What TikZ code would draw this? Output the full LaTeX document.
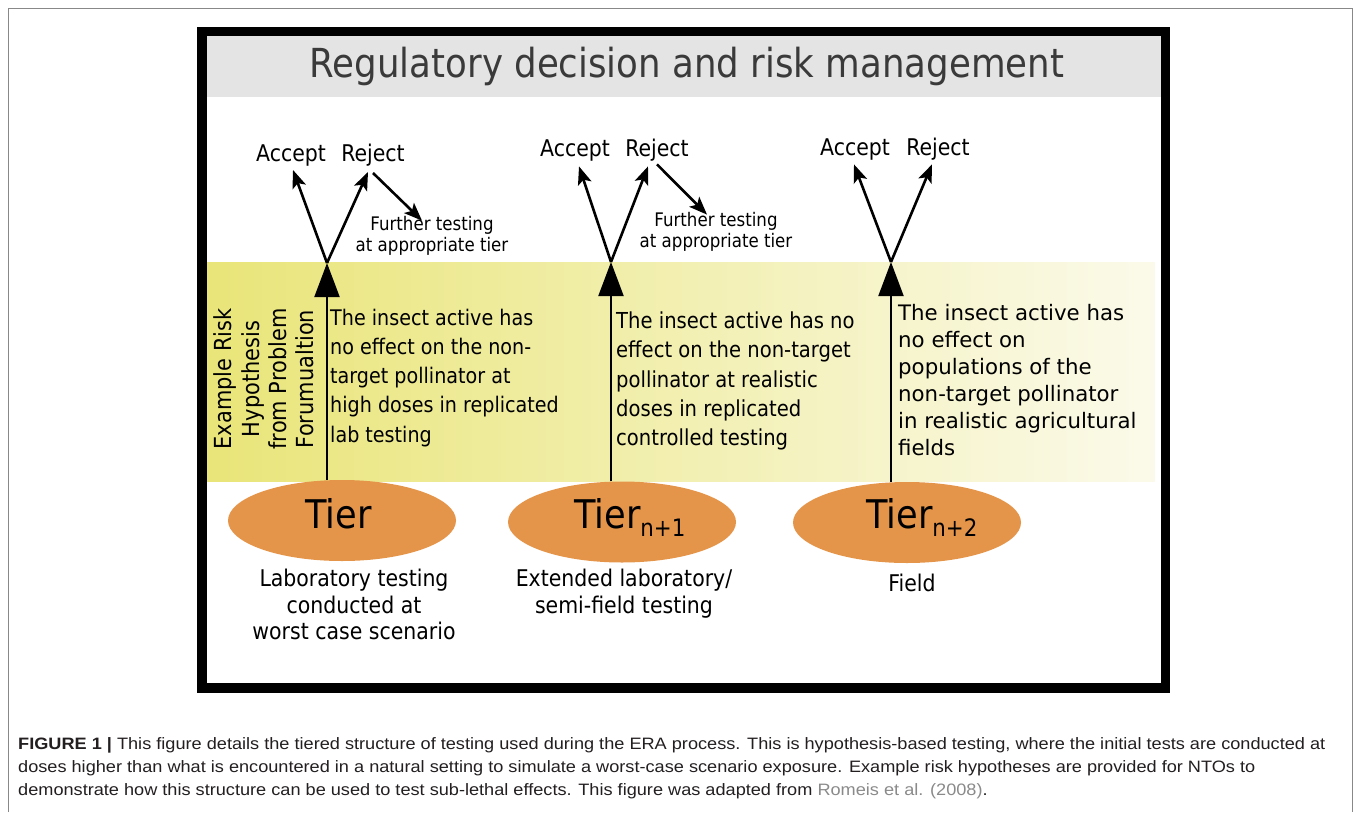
\documentclass[tikz,border=0pt]{standalone}
\usepackage{fontspec}
\usetikzlibrary{arrows.meta,shapes.geometric}
\newfontfamily\djv[FakeStretch=0.89]{DejaVu Sans}
\newfontfamily\djw{DejaVu Sans}
\newfontfamily\capfont[FakeStretch=1.1]{Liberation Sans}
\definecolor{tierorange}{HTML}{E5954A}
\definecolor{headgray}{HTML}{E4E4E4}
\definecolor{titlegray}{HTML}{3A3A3A}
\definecolor{yelA}{HTML}{E9E579}
\definecolor{yelB}{HTML}{F3F0AE}
\definecolor{yelC}{HTML}{FBFAEA}
\definecolor{captext}{HTML}{231F20}
\definecolor{linkgray}{HTML}{8A8A8A}
\definecolor{pagegray}{HTML}{888888}
\begin{document}
\begin{tikzpicture}[x=1pt,y=-1pt,
  hyp/.style={anchor=north west, align=left, inner sep=0pt, font=\djv\fontsize{21.5}{29.3}\selectfont},
  below/.style={anchor=north, align=center, inner sep=0pt, font=\djv\fontsize{23}{26.5}\selectfont},
  further/.style={anchor=north, align=center, inner sep=0pt, font=\djv\fontsize{18.7}{21}\selectfont},
  decision/.style={anchor=base, inner sep=0pt, font=\djv\fontsize{23}{26}\selectfont},
  tierell/.style={ellipse, fill=tierorange, minimum width=228pt, minimum height=81pt, inner sep=0pt},
  tiertxt/.style={anchor=base west, inner sep=0pt, font=\djv\fontsize{39.5}{40}\selectfont},
  uparrow/.style={line width=2pt, -{Triangle[length=34pt,width=25pt]}},
  choice/.style={line width=2.6pt, -{Stealth[length=18pt,width=14pt,inset=4pt]}},
  capline/.style={anchor=base west, inner sep=0pt, text=captext, font=\capfont\fontsize{16.5}{23}\selectfont}
]
\useasboundingbox (0,0) rectangle (1358,812);
% page frame
\draw[pagegray, line width=1pt] (8,812) -- (8,8) -- (1352,8) -- (1352,812);
% header
\fill[headgray] (207,36) rectangle (1161,97);
\node[text=titlegray, inner sep=0pt, font=\djv\fontsize{40}{40}\selectfont] (title) at (687,66) {Regulatory decision and risk management};
% yellow band
\shade[left color=yelA, middle color=yelB, right color=yelC] (207,262) rectangle (1155,481);
% black frame
\draw[black, line width=9.5pt] (202,31.5) rectangle (1165.5,688);

% rotated label
\node[rotate=90, align=center, inner sep=0pt, font=\djv\fontsize{23.5}{27.3}\selectfont] (rh) at (264,379)
  {Example Risk\\Hypothesis\\from Problem\\Forumualtion};

% tier ellipses
\node[tierell] (t1) at (342,520.5) {};
\node[tierell] (t2) at (622,522) {};
\node[tierell] (t3) at (907,522.5) {};
\node[tiertxt] (tt1) at (305,528.5) {Tier};
\node[tiertxt] (tt2) at (574,528) {Tier\raisebox{-8pt}{\fontsize{24}{24}\selectfont n+1}};
\node[tiertxt] (tt3) at (866,528) {Tier\raisebox{-8pt}{\fontsize{24}{24}\selectfont n+2}};

% junctions
\coordinate (j1) at (327,263);
\coordinate (j2) at (611,262);
\coordinate (j3) at (891,262);

% hypotheses
\node[hyp] (h1) at (330,308.5) {The insect active has\\no effect on the non-\\target pollinator at\\high doses in replicated\\lab testing};
\node[hyp, font=\djv\fontsize{22}{29.3}\selectfont] (h2) at (616,311.5) {The insect active has no\\effect on the non-target\\pollinator at realistic\\doses in replicated\\controlled testing};
\node[hyp, font=\djw\fontsize{21.3}{27}\selectfont] (h3) at (898,304) {The insect active has\\no effect on\\populations of the\\non-target pollinator\\in realistic agricultural\\fields};

% accept / reject
\node[decision] (a1) at (291,161) {Accept};
\node[decision] (r1) at (373,161) {Reject};
\node[decision] (a2) at (575,156.4) {Accept};
\node[decision] (r2) at (657,156.4) {Reject};
\node[decision] (a3) at (855,155.4) {Accept};
\node[decision] (r3) at (938,155.4) {Reject};

% further testing
\node[further] (f1) at (432,215.6) {Further testing\\at appropriate tier};
\node[further] (f2) at (716,211.6) {Further testing\\at appropriate tier};

% below labels
\node[below] (b1) at (354,569) {Laboratory testing\\conducted at\\worst case scenario};
\node[below] (b2) at (624,569) {Extended laboratory/\\semi-field testing};
\node[below] (b3) at (912,574) {Field};

% vertical arrows
\draw[uparrow] (j1 |- t1.north) -- (j1);
\draw[uparrow] (j2 |- t2.north) -- (j2);
\draw[uparrow] (j3 |- t3.north) -- (j3);

% choice arrows
\draw[choice] (j1) -- ([xshift=2pt,yshift=-4pt]a1.south);
\draw[choice] (j1) -- ([xshift=-5pt,yshift=-6pt]r1.south);
\draw[choice] ([xshift=0pt,yshift=-7pt]r1.south) -- ([xshift=-10pt,yshift=-5pt]f1.north);
\draw[choice] (j2) -- ([xshift=4pt,yshift=-5pt]a2.south);
\draw[choice] (j2) -- ([xshift=-9pt,yshift=-5pt]r2.south);
\draw[choice] ([xshift=0pt,yshift=-3pt]r2.south) -- ([xshift=-9pt,yshift=-3pt]f2.north);
\draw[choice] (j3) -- ([xshift=-1pt,yshift=-4pt]a3.south);
\draw[choice] (j3) -- ([xshift=-6pt,yshift=-4pt]r3.south);

% caption
\node[capline] (c1) at (18,749) {\textbf{FIGURE 1 |} This figure details the tiered structure of testing used during the ERA process. This is hypothesis-based testing, where the initial tests are conducted at};
\node[capline] (c2) at (18,772) {doses higher than what is encountered in a natural setting to simulate a worst-case scenario exposure. Example risk hypotheses are provided for NTOs to};
\node[capline] (c3) at (18,795) {demonstrate how this structure can be used to test sub-lethal effects. This figure was adapted from \textcolor{linkgray}{Romeis et al. (2008)}.};
\end{tikzpicture}
\end{document}
